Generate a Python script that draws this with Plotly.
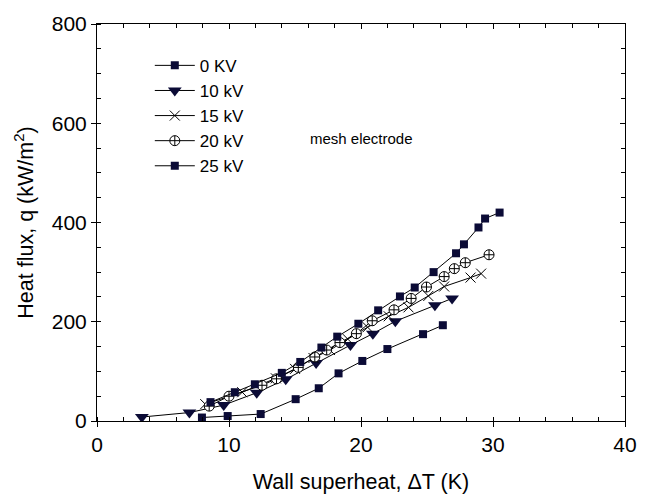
import plotly.graph_objects as go

# 0 KV
x0 = [7.95, 9.9, 12.4, 15.05, 16.8, 18.3, 20.1, 22.0, 24.7, 26.2]
y0 = [7, 10, 14, 44, 66, 96, 121, 145, 175, 193]
# 10 kV
x10 = [3.4, 7.0, 9.6, 12.1, 14.3, 16.6, 19.2, 20.9, 22.6, 25.6, 26.9]
y10 = [8, 17, 32, 57, 84, 117, 153, 176, 201, 233, 247]
# 15 kV
x15 = [8.2, 11.0, 13.55, 15.0, 16.4, 17.65, 19.0, 20.5, 22.1, 23.6, 25.1, 26.3, 28.3, 29.1]
y15 = [34, 58, 86, 105, 127, 143, 165, 189, 211, 229, 252, 271, 289, 297]
# 20 kV
x20 = [8.5, 10.0, 12.5, 13.6, 15.25, 16.5, 17.4, 18.4, 19.65, 20.85, 22.5, 23.8, 24.96, 26.3, 27.07, 27.9, 29.7]
y20 = [30, 50, 72, 85, 108, 129, 143, 158, 176, 202, 224, 247, 270, 291, 307, 319, 335]
# 25 kV
x25 = [8.6, 10.44, 11.96, 14.0, 15.4, 17.0, 18.2, 19.8, 21.3, 22.95, 24.07, 25.5, 27.2, 27.8, 28.9, 29.4, 30.5]
y25 = [38, 58, 74, 97, 119, 148, 170, 196, 223, 251, 269, 300, 338, 356, 390, 408, 420]

NAVY = "#0b0b36"
FONT = "Arial, Liberation Sans, sans-serif"

series = [
    ("0 KV", x0, y0, dict(symbol="square", size=8, color=NAVY)),
    ("10 kV", x10, y10, dict(symbol="triangle-down", size=12, color=NAVY)),
    ("15 kV", x15, y15, dict(symbol="x-thin", size=10, color="white", line=dict(color="black", width=1))),
    ("20 kV", x20, y20, dict(symbol="circle-cross", size=10, color="white", line=dict(color="black", width=1))),
    ("25 kV", x25, y25, dict(symbol="square", size=8, color=NAVY)),
]

fig = go.Figure()
for name, xs, ys, mk in series:
    fig.add_trace(go.Scatter(x=xs, y=ys, name=name, mode="lines+markers",
                             line=dict(color="black", width=1), marker=mk))

# invisible copy on the mirrored (top/right) axes so they are drawn
fig.add_trace(go.Scatter(x=x25, y=y25, xaxis="x2", yaxis="y2", mode="markers",
                         marker=dict(opacity=0), showlegend=False, hoverinfo="skip"))

axis_common = dict(showline=True, linecolor="black", linewidth=1, showgrid=False,
                   zeroline=False, ticks="outside", ticklen=5, tickcolor="black",
                   tickfont=dict(family=FONT, size=21, color="black"))

fig.update_layout(
    width=649, height=503,
    margin=dict(l=97, r=16, t=19, b=82),
    paper_bgcolor="white", plot_bgcolor="white",
    font=dict(family=FONT, color="black"),
    showlegend=True,
    legend=dict(x=0.1, y=0.94, xanchor="left", yanchor="top",
                font=dict(family=FONT, size=17, color="black"),
                bgcolor="rgba(0,0,0,0)", tracegroupgap=0, itemwidth=40),
    xaxis=dict(range=[0, 40], dtick=10, tick0=0,
               minor=dict(dtick=2, ticks="inside", ticklen=4, tickcolor="black"),
               title=dict(text="Wall superheat, \u0394T (K)", font=dict(family=FONT, size=21.5), standoff=18),
               **axis_common),
    yaxis=dict(range=[0, 800], dtick=200, tick0=0,
               minor=dict(dtick=50, ticks="inside", ticklen=4, tickcolor="black"),
               title=dict(text="Heat flux, q (kW/m<sup>2</sup>)", font=dict(family=FONT, size=21.5), standoff=12),
               **axis_common),
    xaxis2=dict(overlaying="x", side="top", range=[0, 40], dtick=10, tick0=0,
                showline=True, linecolor="black", linewidth=1, showgrid=False, zeroline=False,
                ticks="inside", ticklen=5, tickcolor="black", showticklabels=False,
                minor=dict(dtick=2, ticks="inside", ticklen=4, tickcolor="black")),
    yaxis2=dict(overlaying="y", side="right", range=[0, 800], dtick=200, tick0=0,
                showline=True, linecolor="black", linewidth=1, showgrid=False, zeroline=False,
                ticks="inside", ticklen=5, tickcolor="black", showticklabels=False,
                minor=dict(dtick=50, ticks="inside", ticklen=4, tickcolor="black")),
    annotations=[dict(x=20.0, y=570, xref="x", yref="y", text="mesh electrode",
                      showarrow=False, font=dict(family=FONT, size=15, color="black"))],
)

fig.write_html("out.html")
